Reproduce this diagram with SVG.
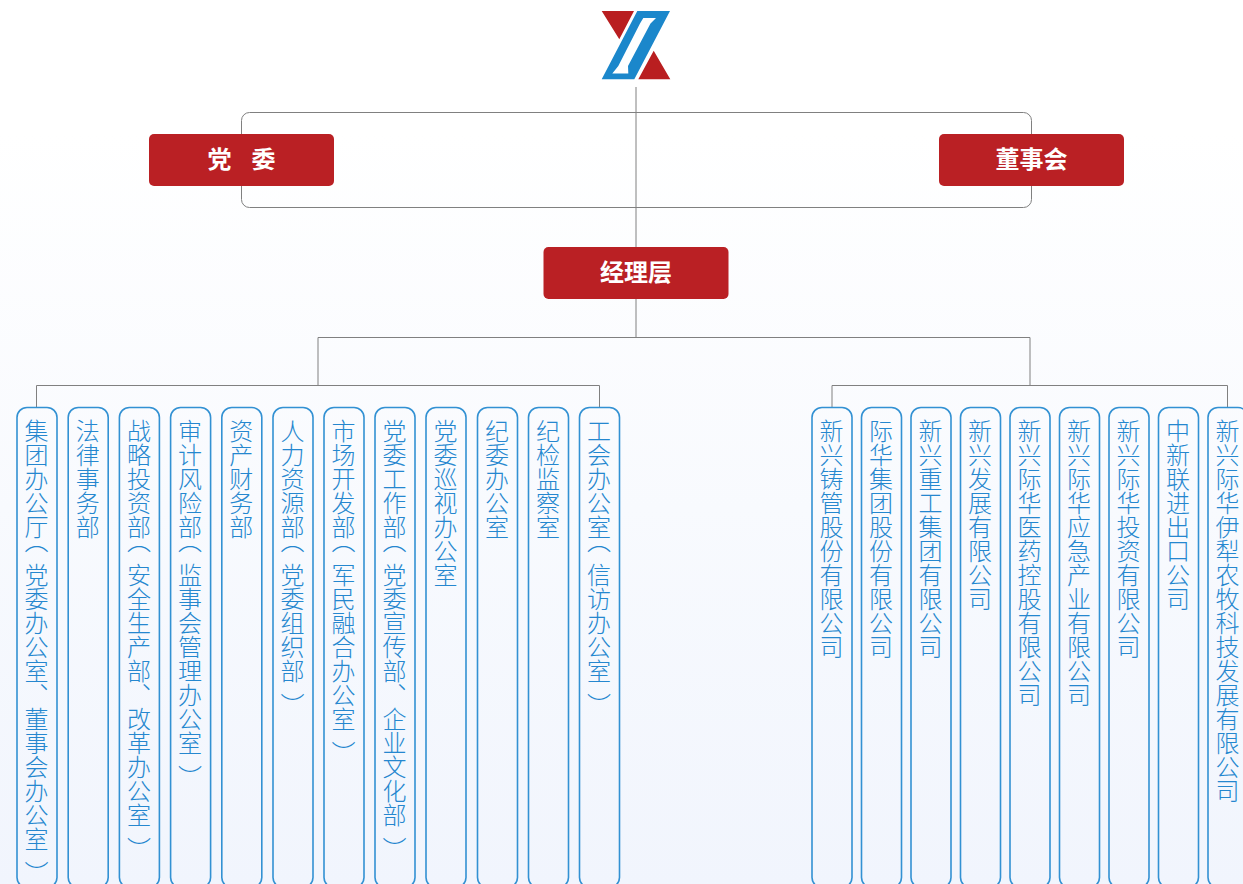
<svg xmlns="http://www.w3.org/2000/svg" width="1243" height="884" viewBox="0 0 1243 884">
<style>
.r{fill:#ba2024}
.rt{fill:#fff;font:bold 24px "Noto Sans CJK SC","Noto Sans CJK JP",sans-serif;text-anchor:middle}
.b{fill:none;stroke:#3291d3;stroke-width:1.6}
.bt{fill:#2587cf;font:300 24px "Noto Sans CJK SC","Noto Sans CJK JP",sans-serif;writing-mode:vertical-rl}
.c{fill:none;stroke:#808080;stroke-width:1}
</style>
<defs><linearGradient id="bg" x1="0" y1="0" x2="0" y2="1"><stop offset="0.15" stop-color="#fff"/><stop offset="1" stop-color="#f1f5fd"/></linearGradient></defs>
<rect width="1243" height="884" fill="url(#bg)"/>
<g id="connectors" class="c">
<path class="c" d="M636 87V247M636 299V337"/>
<rect class="c" x="241.500" y="112.500" width="790" height="95" rx="8"/>
<path class="c" d="M318 385V337.500H1030V385"/>
<path class="c" d="M36.500 407V385.500H599.500V407"/>
<path class="c" d="M832 407V385.500H1227.500V407"/>
</g>
<g id="logo">
<path fill="#b91e20" d="M601.700 11H634L619.300 39.300ZM653.700 50.700L670.300 79.300H638.300Z"/>
<path fill="#1b87cb" fill-rule="evenodd" d="M637.300 11H670L634.300 79.300H601.700ZM643.300 18H656L650.500 23.500L628 66L628.300 73.500H612.300L618.300 66L640 23.500Z"/>
</g>
<g id="n-dangwei"><rect class="r" x="149" y="134" width="185" height="52" rx="5"/><text class="rt" x="241.500" y="167.500" xml:space="preserve" word-spacing="1.300">党   委</text></g>
<g id="n-dongshihui"><rect class="r" x="939" y="134" width="185" height="52" rx="5"/><text class="rt" x="1031.500" y="167.500">董事会</text></g>
<g id="n-jingli"><rect class="r" x="543.500" y="247" width="185" height="52" rx="5"/><text class="rt" x="636" y="280.500">经理层</text></g>
<g id="d1"><rect class="b" x="17" y="407.500" width="40" height="480" rx="10"/><text class="bt" x="36.500" y="419">集团办公厅<tspan dy="-10">（</tspan><tspan dy="10">党委办公室、董事会办公室</tspan><tspan dy="10">）</tspan></text></g>
<g id="d2"><rect class="b" x="68.200" y="407.500" width="40" height="480" rx="10"/><text class="bt" x="87.700" y="419">法律事务部</text></g>
<g id="d3"><rect class="b" x="119.400" y="407.500" width="40" height="480" rx="10"/><text class="bt" x="138.900" y="419">战略投资部<tspan dy="-10">（</tspan><tspan dy="10">安全生产部、改革办公室</tspan><tspan dy="10">）</tspan></text></g>
<g id="d4"><rect class="b" x="170.600" y="407.500" width="40" height="480" rx="10"/><text class="bt" x="190.100" y="419">审计风险部<tspan dy="-10">（</tspan><tspan dy="10">监事会管理办公室</tspan><tspan dy="10">）</tspan></text></g>
<g id="d5"><rect class="b" x="221.800" y="407.500" width="40" height="480" rx="10"/><text class="bt" x="241.300" y="419">资产财务部</text></g>
<g id="d6"><rect class="b" x="273" y="407.500" width="40" height="480" rx="10"/><text class="bt" x="292.500" y="419">人力资源部<tspan dy="-10">（</tspan><tspan dy="10">党委组织部</tspan><tspan dy="10">）</tspan></text></g>
<g id="d7"><rect class="b" x="324" y="407.500" width="40" height="480" rx="10"/><text class="bt" x="343.500" y="419">市场开发部<tspan dy="-10">（</tspan><tspan dy="10">军民融合办公室</tspan><tspan dy="10">）</tspan></text></g>
<g id="d8"><rect class="b" x="375" y="407.500" width="40" height="480" rx="10"/><text class="bt" x="394.500" y="419">党委工作部<tspan dy="-10">（</tspan><tspan dy="10">党委宣传部、企业文化部</tspan><tspan dy="10">）</tspan></text></g>
<g id="d9"><rect class="b" x="426" y="407.500" width="40" height="480" rx="10"/><text class="bt" x="445.500" y="419">党委巡视办公室</text></g>
<g id="d10"><rect class="b" x="477.500" y="407.500" width="40" height="480" rx="10"/><text class="bt" x="497" y="419">纪委办公室</text></g>
<g id="d11"><rect class="b" x="528.500" y="407.500" width="40" height="480" rx="10"/><text class="bt" x="548" y="419">纪检监察室</text></g>
<g id="d12"><rect class="b" x="579.500" y="407.500" width="40" height="480" rx="10"/><text class="bt" x="599" y="419">工会办公室<tspan dy="-10">（</tspan><tspan dy="10">信访办公室</tspan><tspan dy="10">）</tspan></text></g>
<g id="s1"><rect class="b" x="812" y="407.500" width="40" height="480" rx="10"/><text class="bt" x="831.500" y="419">新兴铸管股份有限公司</text></g>
<g id="s2"><rect class="b" x="861.500" y="407.500" width="40" height="480" rx="10"/><text class="bt" x="881" y="419">际华集团股份有限公司</text></g>
<g id="s3"><rect class="b" x="911" y="407.500" width="40" height="480" rx="10"/><text class="bt" x="930.500" y="419">新兴重工集团有限公司</text></g>
<g id="s4"><rect class="b" x="960.500" y="407.500" width="40" height="480" rx="10"/><text class="bt" x="980" y="419">新兴发展有限公司</text></g>
<g id="s5"><rect class="b" x="1010" y="407.500" width="40" height="480" rx="10"/><text class="bt" x="1029.500" y="419">新兴际华医药控股有限公司</text></g>
<g id="s6"><rect class="b" x="1059.500" y="407.500" width="40" height="480" rx="10"/><text class="bt" x="1079" y="419">新兴际华应急产业有限公司</text></g>
<g id="s7"><rect class="b" x="1109" y="407.500" width="40" height="480" rx="10"/><text class="bt" x="1128.500" y="419">新兴际华投资有限公司</text></g>
<g id="s8"><rect class="b" x="1158.500" y="407.500" width="40" height="480" rx="10"/><text class="bt" x="1178" y="419">中新联进出口公司</text></g>
<g id="s9"><rect class="b" x="1208" y="407.500" width="40" height="480" rx="10"/><text class="bt" x="1227.500" y="419">新兴际华伊犁农牧科技发展有限公司</text></g>
</svg>
